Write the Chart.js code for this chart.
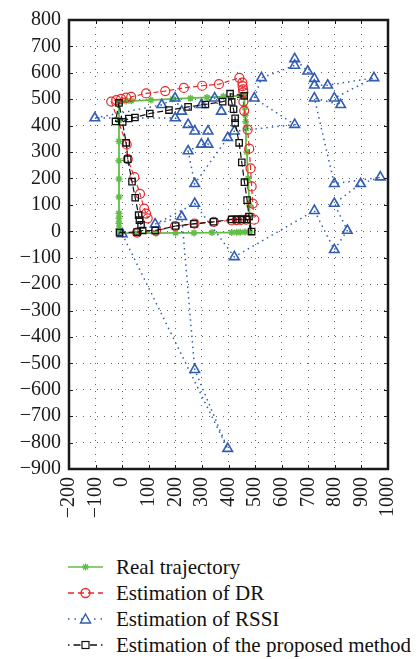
<!DOCTYPE html>
<html>
<head>
<meta charset="utf-8">
<script src="https://cdn.jsdelivr.net/npm/chart.js@4"></script>
<style>
body { margin: 0; background: #fff; }
#wrap { position: relative; width: 420px; height: 659px; }
#legend { position: absolute; left: 0; top: 554px; font-family: "Liberation Serif", serif; font-size: 21px; color: #111; }
.row { height: 26px; display: flex; align-items: center; white-space: nowrap; }
.row svg { margin-left: 66px; margin-right: 11px; }
</style>
</head>
<body>
<div id="wrap">
<canvas id="chart" width="420" height="535"></canvas>
<div id="legend"></div>
</div>
<script>
// series names
const names = ["Real trajectory", "Estimation of DR", "Estimation of RSSI", "Estimation of the proposed method"];

// real trajectory
const realX = [-10, 58, 127, 201, 270, 338, 412, 431, 444, 462, 481, 478, 474, 469, 466, 465, 463, 461, 460, 381, 319, 257, 190, 108, 34, 15, -12, -12, -12, -12, -12, -12, -12, -12, -12, -12, -10];
const realY = [-7, -7, -7, -6, -6, -5, -5, -4, -4, -3, -3, 100, 200, 300, 390, 415, 440, 470, 514, 510, 507, 504, 501, 497, 494, 493, 490, 420, 341, 267, 198, 130, 68, 49, 30, 10, -7];

// dead reckoning
const drX = [56, 127, 199, 272, 345, 412, 431, 447, 466, 497, 491, 487, 483, 478, 472, 459, 456, 456, 455, 453, 452, 441, 364, 301, 232, 162, 90, 34, 15, -4, -22, -41, 17, 21, 46, 67, 83, 90, 96];
const drY = [-5, 2, 20, 29, 36, 41, 42, 43, 44, 44, 105, 170, 238, 313, 385, 456, 491, 526, 537, 550, 563, 581, 557, 551, 543, 531, 522, 509, 506, 501, 497, 491, 329, 273, 205, 142, 86, 67, 49];

// rssi
const rssiX = [0, 397, 273, 224, 124, 273, 422, 723, 798, 847, 798, 897, 971, 798, 723, 822, 798, 947, 773, 723, 723, 698, 649, 649, 524, 497, 649, 422, 397, 273, 248, 298, 323, 323, 273, 248, 199, -103, 149, 199, 224, 298, 348, 373];
const rssiY = [-10, -823, -524, 55, 27, 105, -97, 78, -70, 3, 105, 180, 205, 180, 504, 479, 504, 581, 553, 553, 578, 606, 653, 628, 581, 504, 404, 379, 354, 180, 304, 329, 329, 379, 379, 404, 429, 429, 479, 504, 454, 479, 504, 454];

// proposed method
const propX = [-10, 56, 77, 124, 201, 270, 344, 412, 431, 450, 469, 487, 477, 470, 460, 450, 440, 425, 425, 419, 412, 406, 459, 378, 313, 248, 176, 104, 48, 25, 2, -25, -12, 15, 21, 37, 49, 62, 65, 71];
const propY = [-5, -3, 3, 3, 20, 28, 36, 45, 45, 45, 45, -1, 56, 118, 186, 261, 335, 410, 428, 462, 490, 521, 513, 491, 480, 471, 459, 446, 431, 427, 414, 416, 486, 335, 273, 188, 127, 61, 42, 24];

const GREEN = "rgb(98,190,72)";
const RED = "rgb(232,40,44)";
const BLUE = "rgb(48,92,178)";
const BLACK = "#111";

function pts(xs, ys) {
    return xs.map((x, i) => ({ x: x, y: ys[i] }));
}

const minus = v => String(v).replace("-", "\u2212");

// frame + inward tick marks
const frame = {
    id: "frame",
    afterDatasetsDraw(chart) {
        const a = chart.chartArea;
        const ctx = chart.ctx;
        const sx = chart.scales.x, sy = chart.scales.y;
        ctx.save();
        ctx.strokeStyle = "#1a1a1a";
        ctx.lineWidth = 1;
        for (let v = -900; v <= 800; v += 100) {
            const p = Math.round(sy.getPixelForValue(v)) + 0.5;
            ctx.beginPath();
            ctx.moveTo(a.left, p); ctx.lineTo(a.left + 4, p);
            ctx.moveTo(a.right, p); ctx.lineTo(a.right - 4, p);
            ctx.stroke();
        }
        for (let v = -200; v <= 1000; v += 100) {
            const p = Math.round(sx.getPixelForValue(v)) + 0.5;
            ctx.beginPath();
            ctx.moveTo(p, a.bottom); ctx.lineTo(p, a.bottom - 4);
            ctx.moveTo(p, a.top); ctx.lineTo(p, a.top + 4);
            ctx.stroke();
        }
        ctx.lineWidth = 2.5;
        ctx.strokeRect(a.left, a.top, a.right - a.left, a.bottom - a.top);
        ctx.restore();
    }
};

const tickFont = { family: "'Liberation Serif', serif", size: 20 };

const ctx = document.getElementById("chart").getContext("2d");
new Chart(ctx, {
    type: "scatter",
    data: {
        datasets: [
            {
                label: names[0], data: pts(realX, realY), showLine: true,
                borderColor: GREEN, backgroundColor: GREEN, borderWidth: 1.8,
                pointStyle: "star", pointRadius: 3.5, pointBorderWidth: 1.5, order: 4
            },
            {
                label: names[1], data: pts(drX, drY), showLine: true,
                borderColor: RED, backgroundColor: "rgba(0,0,0,0)", borderWidth: 1.2, borderDash: [5, 3],
                pointStyle: "circle", pointRadius: 4.5, pointBorderWidth: 1.2, order: 3
            },
            {
                label: names[2], data: pts(rssiX, rssiY), showLine: true,
                borderColor: BLUE, backgroundColor: "rgba(0,0,0,0)", borderWidth: 1.5, borderDash: [1.5, 4],
                pointStyle: "triangle", pointRadius: 5.5, pointBorderWidth: 1.6, order: 2
            },
            {
                label: names[3], data: pts(propX, propY), showLine: true,
                borderColor: BLACK, backgroundColor: "rgba(0,0,0,0)", borderWidth: 1.2, borderDash: [6, 3],
                pointStyle: "rect", pointRadius: 4.5, pointBorderWidth: 1.3, order: 1
            }
        ]
    },
    options: {
        responsive: false,
        animation: false,
        layout: { padding: { top: 14, right: 29, left: 0, bottom: 0 } },
        plugins: { legend: { display: false }, tooltip: { enabled: false } },
        scales: {
            x: {
                type: "linear", min: -200, max: 1000,
                afterFit: s => { s.height = 66; },
                ticks: {
                    stepSize: 100, autoSkip: false, minRotation: 90, maxRotation: 90, padding: 8,
                    color: "#1a1a1a", font: tickFont, callback: minus
                },
                grid: { color: "rgba(0,0,0,0.6)", lineWidth: 1, drawTicks: false },
                border: { display: false, dash: [1, 6] }
            },
            y: {
                type: "linear", min: -900, max: 800,
                afterFit: s => { s.width = 69; },
                ticks: {
                    stepSize: 100, autoSkip: false, padding: 8,
                    color: "#1a1a1a", font: tickFont, callback: minus
                },
                grid: { color: "rgba(0,0,0,0.6)", lineWidth: 1, drawTicks: false },
                border: { display: false, dash: [1, 6] }
            }
        }
    },
    plugins: [frame]
});

// legend
const samples = [
    '<line x1="2" y1="8" x2="37" y2="8" stroke="' + GREEN + '" stroke-width="1.5"/>' +
    '<g stroke="' + GREEN + '" stroke-width="1.4"><line x1="16" y1="8" x2="23" y2="8"/><line x1="19.5" y1="4.5" x2="19.5" y2="11.5"/><line x1="17" y1="5.5" x2="22" y2="10.5"/><line x1="22" y1="5.5" x2="17" y2="10.5"/></g>',
    '<line x1="2" y1="8" x2="37" y2="8" stroke="' + RED + '" stroke-width="1.3" stroke-dasharray="6,4"/>' +
    '<circle cx="19.5" cy="8" r="4.5" fill="none" stroke="' + RED + '" stroke-width="1.3"/>',
    '<line x1="2" y1="8" x2="37" y2="8" stroke="' + BLUE + '" stroke-width="1.5" stroke-dasharray="1.5,5"/>' +
    '<polygon points="19.5,3 24.5,12 14.5,12" fill="#fff" stroke="' + BLUE + '" stroke-width="1.4"/>',
    '<line x1="2" y1="8" x2="37" y2="8" stroke="' + BLACK + '" stroke-width="1.3" stroke-dasharray="1.5,4,7,4"/>' +
    '<rect x="16" y="4.5" width="7" height="7" fill="#fff" stroke="' + BLACK + '" stroke-width="1.2"/>'
];
const legend = document.getElementById("legend");
for (let i = 0; i < names.length; i++) {
    const row = document.createElement("div");
    row.className = "row";
    row.innerHTML = '<svg width="39" height="16">' + samples[i] + '</svg><span>' + names[i] + '</span>';
    legend.appendChild(row);
}
</script>
</body>
</html>
